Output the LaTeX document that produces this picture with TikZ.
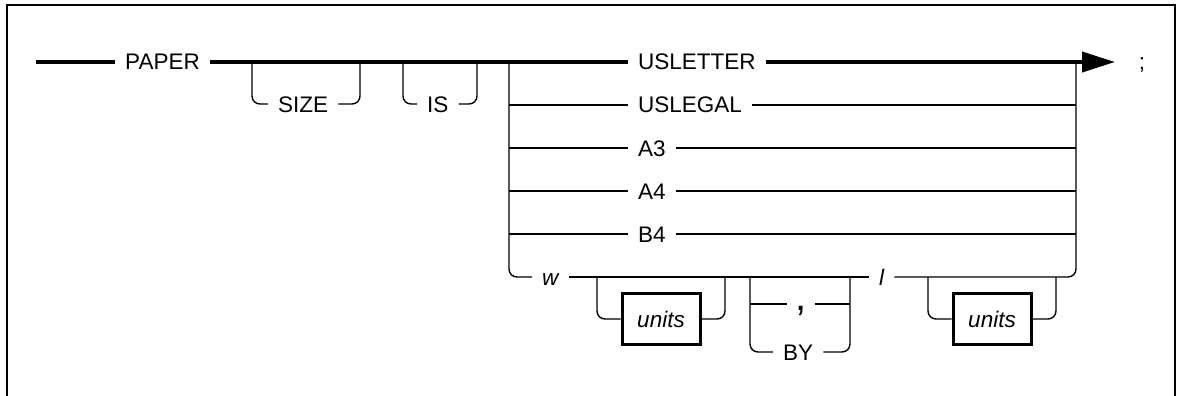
\documentclass[tikz,border=0pt]{standalone}
\usepackage{fontspec}
\newfontfamily\railfont{Liberation Sans}
\usetikzlibrary{arrows.meta,positioning}
\newcommand{\tokfont}{\railfont\fontsize{22.5}{27}\selectfont}
\tikzset{
    % Lines
    main line/.style={line width=4pt},
    rail/.style={line width=1.4pt,rounded corners=8pt},
    frame/.style={line width=1.6pt},
    rail tip/.tip={Triangle[length=33pt,width=20pt]},
    marr/.style={main line,-{rail tip}},
    %
    % Tokens and variables
    tok/.style={font=\tokfont,inner xsep=10pt,inner ysep=0pt,text height=16pt,text depth=0pt,anchor=west},
    vtok/.style={tok,font=\tokfont\itshape},
    varbox/.style={draw,line width=3pt,font=\tokfont\itshape,minimum width=78pt,minimum height=51pt,inner sep=0pt}
}

\begin{document}
\begin{tikzpicture}[x=1pt,y=-1pt]
    \useasboundingbox (0,0) rectangle (1181,396);
    \draw[frame] (7,396) -- (7,5) -- (1175,5) -- (1175,396);

    % main line
    \coordinate (start) at (36,62);
    \coordinate (end) at (1115,62);
    \node[tok] (paper) at (115,62) {PAPER};
    \node[tok] (usletter) at (628,62) {USLETTER};
    \node[tok,anchor=center] (semi) at (1142,62) {;};
    \draw[main line] (start) -- (paper.west);
    \draw[main line] (paper.east) -- (usletter.west);
    \draw[marr] (usletter.east) -- (end);

    % SIZE and IS
    \coordinate (sizeL) at (252,62);
    \coordinate (sizeR) at (360,62);
    \node[tok] (size) at (268,104) {SIZE};
    \draw[rail] (sizeL) |- (size.west);
    \draw[rail] (size.east) -| (sizeR);
    \coordinate (isL) at (403,62);
    \coordinate (isR) at (477,62);
    \node[tok] (is) at (417,104) {IS};
    \draw[rail] (isL) |- (is.west);
    \draw[rail] (is.east) -| (isR);

    % paper names
    \coordinate (chL) at (509,62);
    \coordinate (chR) at (1076,62);
    \foreach \lab/\y/\nm in {USLEGAL/105/uslegal,A3/148/athree,A4/191/afour,B4/234/bfour}{
        \node[tok] (\nm) at (628,\y) {\lab};
        \draw[rail] (\nm.west -| chL) -- (\nm.west);
        \draw[rail] (\nm.east) -- (\nm.east -| chR);
    }

    % w [units] , / BY l [units]
    \node[vtok] (wvar) at (532,277) {w};
    \node[vtok] (lvar) at (869,277) {l};
    \draw[rail] (chL) |- (wvar.west);
    \draw[rail] (wvar.east) -- (lvar.west);
    \draw[rail] (lvar.east) -| (chR);

    \coordinate (uaL) at (597,277);
    \coordinate (uaR) at (725,277);
    \node[varbox] (unitsa) at (661,319) {units};
    \draw[rail] (uaL) |- (unitsa.west);
    \draw[rail] (unitsa.east) -| (uaR);

    \coordinate (sepL) at (750,277);
    \coordinate (sepR) at (850,277);
    \node[tok,font=\railfont\fontsize{40}{40}\selectfont,text height=12pt,inner xsep=8pt] (comma) at (787,304) {,};
    \node[tok] (by) at (773,352) {BY};
    \draw[rail] (sepL) |- (by.west);
    \draw[rail] (by.east) -| (sepR);
    \draw[rail] (comma.west -| sepL) -- (comma.west);
    \draw[rail] (comma.east) -- (comma.east -| sepR);

    \coordinate (ubL) at (928,277);
    \coordinate (ubR) at (1056,277);
    \node[varbox] (unitsb) at (992,319) {units};
    \draw[rail] (ubL) |- (unitsb.west);
    \draw[rail] (unitsb.east) -| (ubR);
\end{tikzpicture}
\end{document}
